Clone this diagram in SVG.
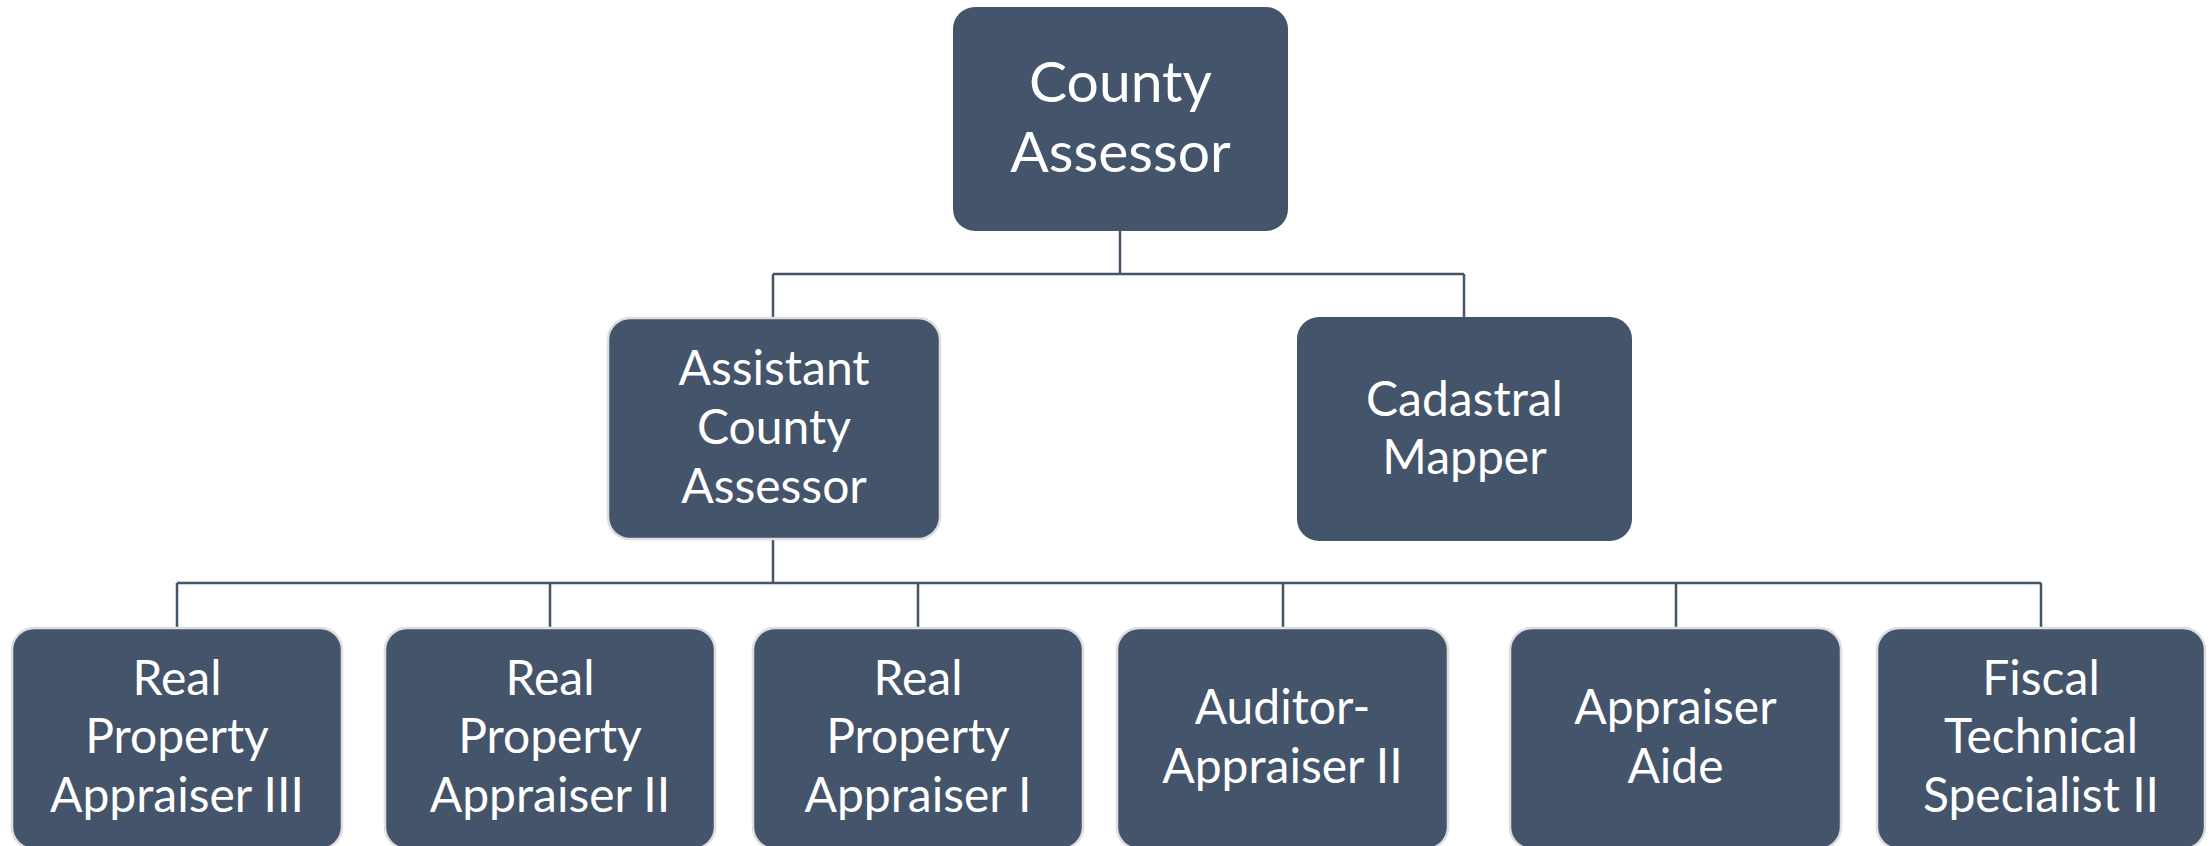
<svg xmlns="http://www.w3.org/2000/svg" width="2211" height="846" viewBox="0 0 2211 846">
<style>
.box{fill:#44546A;}
.ol{stroke:#DEDEDE;stroke-width:2.5;}
.t{fill:#FFFFFF;font-family:Lato,"Liberation Sans",sans-serif;font-size:48px;text-anchor:middle;}
.tb{font-size:57px;}
.c{fill:none;stroke:#44546A;stroke-width:2.5;}
</style>
<rect width="2211" height="846" fill="#FFFFFF"/>
<g id="connectors">
<path class="c" d="M1120,231 V274 M773,274 H1464 M773,274 V318 M1464,274 V317"/>
<path class="c" d="M773,539 V583 M177,583 H2041 M177,583 V628 M550,583 V628 M918,583 V628 M1283,583 V628 M1676,583 V628 M2041,583 V628"/>
</g>
<g id="county-assessor">
<rect class="box" x="953" y="7" width="335" height="224" rx="22"/>
<text class="t tb" x="1120.5"><tspan x="1120.5" y="102">County</tspan><tspan x="1120.5" y="172">Assessor</tspan></text>
</g>
<g id="assistant-county-assessor">
<rect class="box ol" x="608" y="318" width="332" height="221" rx="22"/>
<text class="t"><tspan x="774" y="385">Assistant</tspan><tspan x="774" y="444">County</tspan><tspan x="774" y="503">Assessor</tspan></text>
</g>
<g id="cadastral-mapper">
<rect class="box" x="1297" y="317" width="335" height="224" rx="22"/>
<text class="t"><tspan x="1464.5" y="416">Cadastral</tspan><tspan x="1464.5" y="474">Mapper</tspan></text>
</g>
<g id="rpa3">
<rect class="box ol" x="12" y="628" width="330" height="221" rx="22"/>
<text class="t"><tspan x="177" y="695">Real</tspan><tspan x="177" y="753">Property</tspan><tspan x="177" y="812">Appraiser III</tspan></text>
</g>
<g id="rpa2">
<rect class="box ol" x="385" y="628" width="330" height="221" rx="22"/>
<text class="t"><tspan x="550" y="695">Real</tspan><tspan x="550" y="753">Property</tspan><tspan x="550" y="812">Appraiser II</tspan></text>
</g>
<g id="rpa1">
<rect class="box ol" x="753" y="628" width="330" height="221" rx="22"/>
<text class="t"><tspan x="918" y="695">Real</tspan><tspan x="918" y="753">Property</tspan><tspan x="918" y="812">Appraiser I</tspan></text>
</g>
<g id="auditor-appraiser">
<rect class="box ol" x="1117" y="628" width="331" height="221" rx="22"/>
<text class="t"><tspan x="1282.5" y="724">Auditor-</tspan><tspan x="1282.5" y="783">Appraiser II</tspan></text>
</g>
<g id="appraiser-aide">
<rect class="box ol" x="1510" y="628" width="331" height="221" rx="22"/>
<text class="t"><tspan x="1675.5" y="724">Appraiser</tspan><tspan x="1675.5" y="783">Aide</tspan></text>
</g>
<g id="fiscal-tech">
<rect class="box ol" x="1877" y="628" width="328" height="221" rx="22"/>
<text class="t"><tspan x="2041" y="695">Fiscal</tspan><tspan x="2041" y="753">Technical</tspan><tspan x="2041" y="812">Specialist II</tspan></text>
</g>
</svg>
